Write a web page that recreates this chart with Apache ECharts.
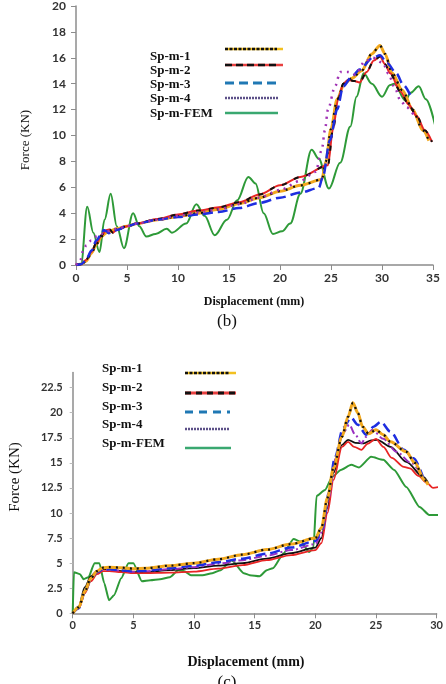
<!DOCTYPE html>
<html><head><meta charset="utf-8">
<script src="https://cdn.jsdelivr.net/npm/echarts@6/dist/echarts.min.js"></script>
<style>html,body{margin:0;padding:0;background:#fff}#c{width:446px;height:684px}</style>
</head><body><div id="c"></div>
<script>
// ---------- Chart (b) ----------
const xTicksB = [0, 35, 5];   // min, max, interval
const yTicksB = [0, 20, 2];
const spm1B = [[0,0],[0.5,0.05],[1,0.3],[1.5,0.9],[2,1.6],[2.5,2.2],[3,2.5],[4,2.8],[5,3.0],[6,3.2],[8,3.5],[10,3.75],[12,4.0],[14,4.3],[16,4.75],[18,5.2],[20,5.7],[22,6.15],[24.1,6.6],[24.5,8.0],[25,10.5],[25.6,12.8],[26.3,14.0],[27,14.4],[28,15.0],[29,16.3],[29.8,16.95],[30.3,16.3],[31,14.8],[32,13.5],[33,12.0],[34,10.4],[34.6,9.6]];
const spm2B = [[0,0],[0.5,0.05],[1,0.4],[1.5,1.0],[2,1.7],[2.5,2.3],[3,2.7],[3.3,2.75],[3.6,2.5],[4,2.7],[5,3.0],[6,3.2],[8,3.55],[10,3.9],[12,4.2],[14,4.45],[16,4.85],[18,5.45],[20,6.15],[22,6.8],[24.7,7.7],[25.2,10.5],[25.7,12.8],[26.2,14.0],[26.7,14.3],[27.3,14.2],[27.8,14.1],[28.5,14.9],[29.2,15.8],[29.8,16.1],[30.3,15.5],[30.8,14.8],[31.8,13.4],[32.6,12.4],[33.4,11.5],[34.2,10.4],[34.9,9.5]];
const spm3B = [[0,0],[0.5,0.05],[1,0.4],[1.5,1.1],[2,1.9],[2.5,2.4],[2.7,2.7],[3.0,2.6],[3.2,2.45],[4,2.7],[5,3.0],[6,3.2],[8,3.5],[10,3.7],[12,3.9],[14,4.1],[16,4.4],[18,4.8],[20,5.2],[22,5.6],[23.8,5.95],[24.2,6.8],[24.9,9.65],[25.6,12],[26.2,13.8],[27,14.5],[27.8,15.1],[29.1,16],[29.8,16.2],[30.5,15.6],[31.4,14.8],[32.1,13.9],[32.9,12.9]];
const spm4B = [[0,0],[0.4,0.3],[0.7,1.1],[1,1.5],[1.5,1.9],[2,2.2],[2.5,2.4],[3,2.6],[4,2.8],[5,3.0],[6,3.2],[8,3.5],[10,3.8],[12,4.05],[14,4.3],[16,4.7],[18,5.2],[20,5.8],[22,6.5],[23.5,7.2],[24.1,8.9],[24.4,10.4],[24.7,12],[25.4,13.8],[25.9,14.9],[26.7,14.9],[27.4,14.7],[28.3,15.7],[29.1,16],[30.1,15.6],[30.6,14.8],[31.3,13.6],[31.8,12.7],[32.4,12.2],[33.1,11.6]];
const femB = [[0,0],[0.5,0.1],[1.1,4.5],[1.7,2.5],[2.3,1.0],[2.8,3.5],[3.4,5.5],[4.0,3.0],[4.7,1.3],[5.6,4.0],[6.2,3.0],[6.9,2.2],[7.8,2.4],[8.9,2.8],[9.4,2.5],[10.8,3.2],[11.8,4.7],[12.6,3.8],[13.6,2.3],[14.8,3.5],[15.8,5.0],[16.9,6.8],[17.6,6.3],[18.4,4.0],[19.3,2.4],[20.2,2.6],[21.0,3.2],[22.0,5.5],[23.1,8.9],[23.8,8.2],[24.8,5.9],[25.9,7.9],[26.9,10.7],[27.5,13],[28.2,14.8],[29,14],[30,13],[30.8,13.9],[31.2,14],[32.3,12.7],[32.8,13.3],[33.6,13.8],[34.3,12.8],[35.2,10.8]];

// ---------- Chart (c) ----------
const xTicksC = [0, 30, 5];
const yTicksC = [0, 24, 2.5];
const spm1C = [[0,0],[0.5,0.6],[1,2.2],[1.5,3.5],[2,4.2],[2.5,4.55],[3,4.6],[4,4.55],[5,4.45],[6,4.5],[8,4.75],[10,5.0],[12,5.4],[14,5.85],[16,6.35],[18,6.9],[20,7.5],[20.5,8.5],[21,11.5],[21.5,14.5],[22.2,17.6],[22.7,19.6],[23.1,21.0],[23.5,20.0],[23.9,18.6],[24.4,17.9],[25,18.3],[25.6,17.8],[26.2,17.1],[27.5,16.1],[28.2,15],[29,13.3],[29.3,12.8]];
const spm2C = [[0,0],[0.5,0.5],[1,2.0],[1.5,3.2],[2,3.9],[2.5,4.2],[3,4.2],[4,4.1],[5,4.0],[6,4.0],[8,4.05],[10,4.15],[12,4.45],[14,4.8],[16,5.3],[18,5.8],[20,6.3],[20.5,7.0],[21,10],[21.5,13.3],[22.2,16.6],[22.7,17.1],[23.2,16.6],[23.8,16.3],[24.3,16.9],[25,17.4],[25.6,16.6],[26.3,15.5],[27.3,14.6],[27.8,14.45],[28.5,13.7],[29.2,13],[29.7,12.5],[30.2,12.6]];
const spm2BlackC = [[0,0],[0.5,0.7],[1,2.6],[1.5,3.7],[2,4.2],[2.5,4.4],[3,4.4],[4,4.2],[5,4.1],[6,4.1],[8,4.3],[10,4.5],[12,4.75],[14,5.0],[16,5.45],[18,6.0],[20,6.55],[20.5,7.5],[21,10.5],[21.5,14],[22.2,16.8],[22.7,17.3],[23.3,17.0],[24,16.95],[24.6,17.25],[25.1,17.3],[26.2,16.6],[27.5,15.1],[28.9,13.6],[29.3,13]];
const spm3C = [[0,0],[0.5,0.5],[1,2.1],[1.5,3.4],[2,4.1],[2.5,4.4],[3,4.4],[4,4.3],[5,4.2],[6,4.25],[8,4.5],[10,4.75],[12,5.1],[14,5.45],[16,5.95],[18,6.55],[20,7.2],[20.6,8.5],[21.1,12],[21.6,15.5],[22.3,18.5],[22.96,19.5],[23.5,18.8],[24.2,17.8],[24.8,18.6],[25.4,19.1],[26.2,18.1],[27.3,16.3],[28.1,15.45],[28.9,13.5]];
const spm4C = [[0,0],[0.5,0.5],[1,2.1],[1.5,3.4],[2,4.1],[2.5,4.35],[3,4.35],[4,4.25],[5,4.15],[6,4.2],[8,4.4],[10,4.6],[12,4.95],[14,5.3],[16,5.75],[18,6.3],[20,6.9],[20.6,8.2],[21.1,11.5],[21.7,15.5],[22.3,18.0],[22.8,18.8],[23.3,17.8],[23.8,16.95],[24.2,17.6],[24.7,18.3],[25.6,17.4],[26.7,16.1],[27.9,15],[28.9,13.5]];
const femC = [[0,0],[0.1,4.1],[0.6,3.9],[0.9,3.4],[1.3,3.6],[1.8,5.0],[2.2,5.0],[2.6,3.0],[3.0,1.3],[3.4,1.8],[4.0,3.5],[4.6,5.0],[5.0,5.0],[5.7,3.2],[6.4,3.3],[7.2,3.4],[8.0,3.6],[8.7,4.3],[9.2,4.2],[9.75,3.8],[10.7,3.8],[11.5,4.0],[12.2,4.3],[13.1,5.3],[14.1,4.0],[14.6,3.8],[15.4,3.7],[16,4.3],[16.5,4.5],[17.4,6.0],[18.2,7.4],[18.8,7.15],[19.5,6.1],[19.85,6.6],[20.1,11.7],[20.8,12.3],[21.4,13.6],[22.1,14.3],[22.96,14.8],[23.6,14.55],[24.6,15.6],[25.6,15.3],[26.5,14.3],[27.5,12.6],[28.6,10.6],[29.4,9.8],[30.2,9.8]];

const legendNames = ['Sp-m-1','Sp-m-2','Sp-m-3','Sp-m-4','Sp-m-FEM'];
const titleY = 'Force (KN)';
const titleX = 'Displacement (mm)';

const SERIF = '"Liberation Serif","DejaVu Serif",serif';
const SANS = 'Lato,"Liberation Sans",sans-serif';
const AX = '#8c8c8c';

function xAxisCfg(t, idx, fs) {
  return { type:'value', gridIndex:idx, min:t[0], max:t[1], interval:t[2],
    axisLine:{lineStyle:{color:AX,width:1.5}}, axisTick:{show:true,length:5,lineStyle:{color:AX}},
    splitLine:{show:false}, axisLabel:{margin:7,color:'#333',fontFamily:SANS,fontWeight:'bold',fontSize:fs} };
}
function yAxisCfg(t, idx, fs, tickLen, tickColor) {
  return { type:'value', gridIndex:idx, min:t[0], max:t[1], interval:t[2],
    axisLine:{show:true,lineStyle:{color:AX,width:1.5}}, axisTick:{show:true,length:tickLen,lineStyle:{color:tickColor}},
    splitLine:{show:false}, axisLabel:{margin:10,color:'#333',fontFamily:SANS,fontWeight:'bold',fontSize:fs,showMaxLabel:t[1]%t[2]===0} };
}
function line(data, idx, color, width, dash, smooth, z) {
  return { type:'line', xAxisIndex:idx, yAxisIndex:idx, data:data, showSymbol:false, symbol:'none',
    smooth:smooth, smoothMonotone:'x', z:z, silent:true,
    lineStyle:{color:color,width:width,type:dash||'solid',cap:'butt'} };
}

const series = [
  line(femB,0,'#2e9a38',2,null,0.35,2),
  line(spm1B,0,'#f2a81d',3,null,0.3,3),
  line(spm1B,0,'#111',2.2,[2,6],0.3,4),
  line(spm2B,0,'#e82525',2,null,0.3,3),
  line(spm2B,0,'#111',2,[5,8],0.3,4),
  line(spm3B,0,'#1e2ee0',2.5,[10,5],0.3,5),
  line(spm4B,0,'#a032b4',2.5,[2,5],0.3,5),

  line(femC,1,'#2e9a38',2,null,0.2,2),
  line(spm2BlackC,1,'#111',1.8,null,0.3,3),
  line(spm2C,1,'#e82525',1.8,null,0.3,3),
  line(spm4C,1,'#9a30c0',2,[8,3,2,3],0.3,4),
  line(spm3C,1,'#1e2ee0',2.5,[10,5],0.3,5),
  line(spm1C,1,'#f2a81d',3,null,0.3,6),
  line(spm1C,1,'#111',2.2,[2,5],0.3,7),
];

// legend samples (graphic, not data)
function seg(x1,x2,y,color,w,dash,z){return {type:'line',z:z||10,shape:{x1:x1,y1:y,x2:x2,y2:y},style:{stroke:color,lineWidth:w,lineDash:dash||null}};}
function txt(x,y,s,fs,weight,align,rot){return {type:'text',x:x,y:y,rotation:rot||0,z:10,style:{text:s,font:weight+' '+fs+'px '+SERIF,fill:'#111',align:align||'left',verticalAlign:'middle'}};}

const g = [];
// legend (b)
const lbTextY = [57,71,85,99,114], lbLineY = [49,65,83,98,113];
legendNames.forEach((n,i)=>g.push(txt(150,lbTextY[i],n,13,'bold')));
g.push(seg(225,283,lbLineY[0],'#f2c020',2.5));
g.push(seg(225,277,lbLineY[0],'#111',2.5,[3,1.5],11));
g.push(seg(225,283,lbLineY[1],'#e84040',2.5));
g.push(seg(225,277,lbLineY[1],'#111',2.5,[7,4],11));
g.push(seg(225,279,lbLineY[2],'#1f78b4',3,[9,5]));
g.push(seg(225,278,lbLineY[3],'#5c5088',2.5,[2,1]));
g.push(seg(225,278,lbLineY[4],'#3aa870',2.5));
// legend (c)
const lcTextY = [369,388,407,425,444], lcLineY = [373,393,412,429,448];
legendNames.forEach((n,i)=>g.push(txt(102,lcTextY[i],n,13,'bold')));
g.push(seg(185,236,lcLineY[0],'#f2c020',2.5));
g.push(seg(185,230,lcLineY[0],'#111',2.5,[3,1.5],11));
g.push(seg(185,236,lcLineY[1],'#e84040',3));
g.push(seg(185,236,lcLineY[1],'#111',3,[6,5],11));
g.push(seg(185,230,lcLineY[2],'#1f78b4',3,[8,6]));
g.push(seg(185,230,lcLineY[3],'#5c5088',2.5,[2,1]));
g.push(seg(185,231,lcLineY[4],'#3aa870',2.5));
// titles
g.push(txt(26,140,titleY,13,'normal','center',Math.PI/2));
g.push(txt(254,302,titleX,12,'bold','center'));
g.push(txt(227,322,'(b)',17,'normal','center'));
g.push(txt(15,477,titleY,15,'normal','center',Math.PI/2));
g.push(txt(246,662,titleX,14,'bold','center'));
g.push(txt(227,683,'(c)',17,'normal','center'));

const chart = echarts.init(document.getElementById('c'), null, {renderer:'canvas'});
chart.setOption({
  animation:false,
  backgroundColor:'#fff',
  grid:[{left:76,top:6,width:357,height:259},{left:72.7,top:372.6,width:371.3,height:240.7}],
  xAxis:[xAxisCfg(xTicksB,0,12), xAxisCfg(xTicksC,1,11)],
  yAxis:[yAxisCfg(yTicksB,0,12,5,AX), yAxisCfg(yTicksC,1,11,3,'#bbb')],
  series:series,
  graphic:g
});
</script></body></html>
